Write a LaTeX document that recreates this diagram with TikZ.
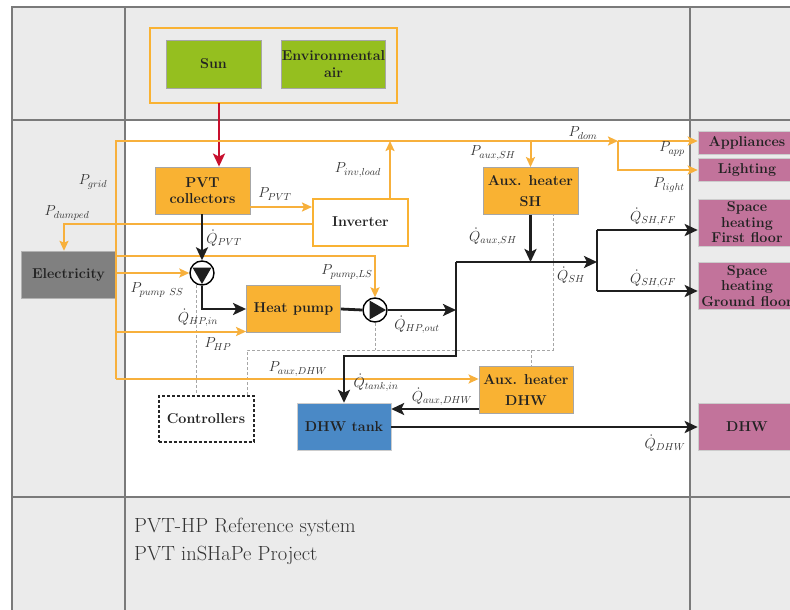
\RequirePackage{fix-cm}
\documentclass[tikz,border=0pt]{standalone}
\usetikzlibrary{arrows.meta,calc}
\definecolor{bggray}{HTML}{EBEBEB}
\definecolor{gridgray}{HTML}{7A7A7A}
\definecolor{orangeF}{HTML}{F9B233}
\definecolor{orangeL}{HTML}{F7B03C}
\definecolor{greenF}{HTML}{95BF1F}
\definecolor{pinkF}{HTML}{C2739B}
\definecolor{blueF}{HTML}{4A89C6}
\definecolor{elecgray}{HTML}{808080}
\definecolor{redL}{HTML}{C8102E}
\definecolor{txt}{HTML}{222222}
\tikzset{
  boxbase/.style={rectangle, inner sep=0pt, align=center, text=txt,
    font=\fontsize{14.3}{15.5}\selectfont\bfseries, minimum height=47pt, minimum width=95pt},
  obox/.style={boxbase, fill=orangeF, draw=black!35, line width=0.8pt},
  gbox/.style={boxbase, fill=greenF, draw=black!35, line width=0.8pt, minimum height=48pt},
  pbox/.style={boxbase, fill=pinkF, draw=black!20, line width=0.6pt, minimum width=98pt},
  lbl/.style={inner sep=0pt, text=black!80, font=\fontsize{14.5}{16}\selectfont},
  oline/.style={draw=orangeL, line width=2pt},
  oarr/.style={oline, -{Stealth[length=10pt,width=9pt,inset=2pt]}},
  bline/.style={draw=black!88, line width=2.8pt},
  barr/.style={bline, -{Stealth[length=13pt,width=12pt,inset=3pt]}},
  cline/.style={draw=black!35, line width=0.7pt, dash pattern=on 3pt off 2pt},
  pumpc/.style={circle, draw=black, fill=white, line width=1.4pt, minimum size=24pt, inner sep=0pt},
  gridl/.style={draw=gridgray, line width=2pt},
  foot/.style={anchor=base west, inner sep=0pt, text=black!80, font=\fontsize{20.5}{24}\selectfont}
}
\begin{document}
\begin{tikzpicture}[x=1pt,y=-1pt]
\useasboundingbox (0,0) rectangle (790,610);
\clip (0,0) rectangle (790,610);
% backgrounds
\fill[bggray] (12,7) rectangle (800,620);
\fill[white] (125,120) rectangle (690,497);
% grid
\draw[gridl] (12,620) -- (12,7) -- (800,7);
\draw[gridl] (125,7) -- (125,620);
\draw[gridl] (690,7) -- (690,620);
\draw[gridl] (12,120) -- (800,120);
\draw[gridl] (12,497) -- (800,497);

% sources
\draw[draw=orangeF, line width=2pt] (150,28) rectangle (397,103);
\node[gbox] (sun) at (213.5,64) {Sun};
\node[gbox, minimum width=103pt] (env) at (333.5,64) {Environmental\\[2pt]air};
\coordinate (srcb) at (219,103);

% nodes
\node[obox] (pvt) at (202.5,190.5) {PVT\\collectors};
\node[boxbase, draw=orangeF, fill=white, line width=2pt] (inv) at (360.5,222) {Inverter};
\node[boxbase, fill=elecgray, draw=black!30] (elec) at (68.5,274.5) {Electricity};
\node[obox] (auxsh) at (530.5,191) {Aux. heater\\[5pt]SH};
\node[obox, minimum width=94pt] (hp) at (293.5,309) {Heat pump};
\node[boxbase, draw=black!85, line width=2pt, dash pattern=on 3pt off 2pt, minimum height=46pt] (ctrl) at (206,419) {Controllers};
\node[boxbase, fill=blueF, draw=black!20, minimum width=94pt] (tank) at (344,426.5) {DHW tank};
\node[obox, minimum width=94pt] (auxdhw) at (526,390) {Aux. heater\\[5pt]DHW};
\node[pbox, minimum height=23pt] (app) at (747,143) {Appliances};
\node[pbox, minimum height=23pt] (light) at (747,170) {Lighting};
\node[pbox] (shff) at (747,222.5) {Space\\heating\\First floor};
\node[pbox] (shgf) at (747,286) {Space\\heating\\Ground floor};
\node[pbox] (dhw) at (747,427) {DHW};

% pumps
\node[pumpc] (p1) at (202,273) {};
\fill[black!88] ($(p1)+(-9.5,-5.5)$) -- ($(p1)+(9.5,-5.5)$) -- ($(p1)+(0,11)$) -- cycle;
\node[pumpc] (p2) at (375,310) {};
\fill[black!88] ($(p2)+(-5.5,-9.5)$) -- ($(p2)+(-5.5,9.5)$) -- ($(p2)+(11,0)$) -- cycle;

% control lines
\draw[cline] (196,285) -- (ctrl.north -| 196,0);
\draw[cline] (ctrl.north -| 247,0) -- (247,350) -- (553,350) -- (auxsh.south -| 553,0);
\draw[cline] (p2.south) -- (375,350);
\draw[cline] (531,350) -- (auxdhw.north -| 531,0);

% red source arrow
\draw[draw=redL, line width=2.8pt, -{Stealth[length=13pt,width=12pt,inset=3pt]}] (srcb) -- (pvt.north -| srcb);

% orange electrical lines
\coordinate (g1) at (116,141);
\coordinate (g2) at (116,379);
\coordinate (dom) at (618,141);
\draw[oarr] (g2) -- (g1) -- (dom);
\draw[oarr] (dom) -- (app.west |- dom);
\draw[oarr] (dom) |- (light.west);
\draw[oarr] (auxsh.north |- g1) -- (auxsh.north);
\coordinate (invup) at (390,198);
\draw[oarr] (invup) -- (invup |- g1);
\draw[oarr] (pvt.east |- 0,207) -- (inv.west |- 0,207);
\draw[oarr] (inv.west |- 0,224) -| ([xshift=-4.5pt]elec.north);
\draw[oarr] (g1 |- 0,256) -| (p2.north);
\draw[oarr] (elec.east |- p1.west) -- (p1.west);
\draw[oarr] (g1 |- 0,331.5) -- (hp.west |- 0,331.5);
\draw[oarr] (g2) -- (auxdhw.west |- g2);

% thermal flows
\coordinate (j1) at (456,310);
\coordinate (j2) at (456,262);
\coordinate (j3) at (456,356);
\coordinate (j4) at (597,262);
\coordinate (j5) at (597,230);
\coordinate (j6) at (597,291);
\draw[barr] (pvt.south -| p1.north) -- (p1.north);
\draw[barr] (p1.south) |- (hp.west);
\draw[bline] (hp.east) -- (p2.west);
\draw[barr] (p2.east) -- (j1);
\draw[barr] (j2) -- (j3) -- (j3 -| tank.north) -- (tank.north);
\draw[bline] (j1) -- (j2);
\draw[barr] (j2) -- (j4);
\draw[barr] (auxsh.south) -- (auxsh.south |- j2);
\draw[bline] (j5) -- (j6);
\draw[barr] (j5) -- (shff.west |- j5);
\draw[barr] (j6) -- (shgf.west |- j6);
\draw[barr] (auxdhw.west |- 0,409) -- (tank.east |- 0,409);
\draw[barr] (tank.east |- 0,427) -- (dhw.west |- 0,427);

% labels
\node[lbl] (lgrid) at (93,182) {$P_{grid}$};
\node[lbl] (ldump) at (67,213) {$P_{dumped}$};
\node[lbl] (lpvt) at (275,194) {$P_{PVT}$};
\node[lbl] (linv) at (358,170) {$P_{inv,load}$};
\node[lbl] (lqpvt) at (224,238) {$\dot{Q}_{PVT}$};
\node[lbl] (lpss) at (157,290) {$P_{pump\ SS}$};
\node[lbl] (lpls) at (347,272) {$P_{pump,LS}$};
\node[lbl] (lqhpin) at (198,318) {$\dot{Q}_{HP,in}$};
\node[lbl] (lphp) at (218,344) {$P_{HP}$};
\node[lbl] (lpauxdhw) at (298,369) {$P_{aux,DHW}$};
\node[lbl] (lqhpout) at (417,325) {$\dot{Q}_{HP,out}$};
\node[lbl] (lqtank) at (376,383) {$\dot{Q}_{tank,in}$};
\node[lbl] (lqauxdhw) at (442,397) {$\dot{Q}_{aux,DHW}$};
\node[lbl] (lqdhw) at (665,443) {$\dot{Q}_{DHW}$};
\node[lbl] (lqauxsh) at (493,237) {$\dot{Q}_{aux,SH}$};
\node[lbl] (lpauxsh) at (493,153) {$P_{aux,SH}$};
\node[lbl] (lpdom) at (583,133) {$P_{dom}$};
\node[lbl] (lpapp) at (672,149) {$P_{app}$};
\node[lbl] (lplight) at (669,185) {$P_{light}$};
\node[lbl] (lqsh) at (571,275) {$\dot{Q}_{SH}$};
\node[lbl] (lqshff) at (653,217) {$\dot{Q}_{SH,FF}$};
\node[lbl] (lqshgf) at (653,279) {$\dot{Q}_{SH,GF}$};

% footer
\node[foot] (t1) at (134,532) {PVT-HP Reference system};
\node[foot] (t2) at (134,560) {PVT inSHaPe Project};
\end{tikzpicture}
\end{document}
